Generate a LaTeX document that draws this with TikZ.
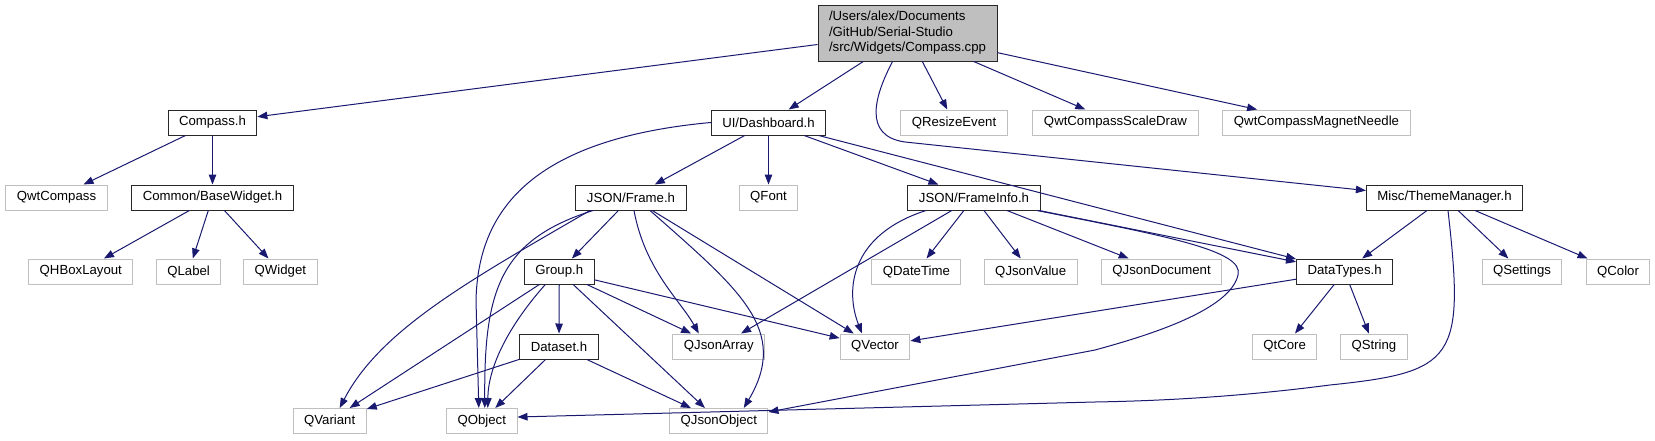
\documentclass[tikz,border=0pt]{standalone}
\usepackage{fontspec}
\setmainfont{Liberation Sans}
\usepackage{tikz}
\usetikzlibrary{arrows.meta}
\definecolor{bleuNuit}{RGB}{25,25,112}
\definecolor{grisBord}{RGB}{191,191,191}
\definecolor{grisFonce}{RGB}{40,40,40}

\tikzset{
  fichier/.style={draw=grisFonce,line width=1pt,fill=white,inner xsep=11pt,
                  inner ysep=0pt,minimum height=25pt},
  externe/.style={fichier,draw=grisBord},
  racine/.style={fichier,fill=grisBord,align=left,minimum height=56pt},
  lien/.style={bleuNuit,line width=1pt,-{Triangle[length=10pt,width=7.5pt]}}
}

\begin{document}
\begin{tikzpicture}[x=1pt,y=-1pt,font=\fontsize{13.2}{15.5}\selectfont]
  \useasboundingbox (0,0) rectangle (1655,440);

  % Fichier racine
  \node[racine] (root) at (907.5,33)
    {/Users/alex/Documents\\/GitHub/Serial-Studio\\/src/Widgets/Compass.cpp};

  % En-têtes du projet
  \foreach \n/\x/\y/\t in {compass/212.5/122.5/Compass.h,
                           dash/768.5/122.5/UI\slash Dashboard.h,
                           base/212.5/197.5/Common\slash BaseWidget.h,
                           frame/631/197.5/JSON\slash Frame.h,
                           frameinfo/974/197.5/JSON\slash FrameInfo.h,
                           theme/1444.5/197.5/Misc\slash ThemeManager.h,
                           group/559.3/271.5/Group.h,
                           datatypes/1344.6/271.5/DataTypes.h,
                           dataset/559/346.5/Dataset.h}
    \node[fichier] (\n) at (\x,\y) {\t};

  % En-têtes externes (Qt, Qwt)
  \foreach \n/\x/\y/\t in {qresize/954/122.5/QResizeEvent,
                           scaledraw/1115.5/122.5/QwtCompassScaleDraw,
                           needle/1316.5/122.5/QwtCompassMagnetNeedle,
                           qwtcompass/56.5/197.5/QwtCompass,
                           qfont/768.5/197.5/QFont,
                           qhbox/80.8/271.5/QHBoxLayout,
                           qlabel/188.6/271.5/QLabel,
                           qwidget/280.4/271.5/QWidget,
                           qdatetime/916.4/271.5/QDateTime,
                           qjsonvalue/1030.7/271.5/QJsonValue,
                           qjsondoc/1161.6/271.5/QJsonDocument,
                           qsettings/1522/271.5/QSettings,
                           qcolor/1618/271.5/QColor,
                           qjsonarray/718.8/346.5/QJsonArray,
                           qvector/875/346.5/QVector,
                           qtcore/1284.6/346.5/QtCore,
                           qstring/1373.9/346.5/QString,
                           qvariant/329.7/421/QVariant,
                           qobject/481.8/421/QObject,
                           qjsonobject/718.8/421/QJsonObject}
    \node[externe] (\n) at (\x,\y) {\t};

  % Liens directs
  \foreach \a/\b in {root/compass,root/dash,root/qresize,root/scaledraw,root/needle,
                     compass/qwtcompass,compass/base,
                     base/qhbox,base/qlabel,base/qwidget,
                     dash/frame,dash/qfont,dash/frameinfo,dash/datatypes,
                     frame/group,frame/qvector,
                     group/qvariant,group/dataset,group/qjsonarray,
                     group/qjsonobject,group/qvector,
                     dataset/qvariant,dataset/qobject,dataset/qjsonobject,
                     frameinfo/qjsonarray,frameinfo/qdatetime,frameinfo/qjsonvalue,
                     frameinfo/qjsondoc,frameinfo/datatypes,
                     datatypes/qvector,datatypes/qtcore,datatypes/qstring,
                     theme/datatypes,theme/qsettings,theme/qcolor}
    \draw[lien] (\a) -- (\b);

  % Liens courbes
  \draw[lien] ([xshift=-15pt]root.south) .. controls (875,95) and (862,136) .. (905,142)
    -- ([yshift=7pt]theme.west);
  \draw[lien] (dash.west) .. controls (520,140) and (478,220) .. (476,300)
    -- ([xshift=-3pt]qobject.north);
  \draw[lien] ([xshift=-38pt]frame.south) .. controls (500,240) and (484,290)
    .. ([xshift=3pt]qobject.north);
  \draw[lien] ([xshift=-41pt]frame.south) .. controls (470,280) and (380,330)
    .. ([xshift=10pt]qvariant.north);
  \draw[lien] ([xshift=3pt]frame.south) .. controls (645,270) and (680,300)
    .. ([xshift=-20pt]qjsonarray.north);
  \draw[lien] ([xshift=19pt]frame.south) .. controls (740,290) and (790,330)
    .. ([xshift=25pt]qjsonobject.north);
  \draw[lien] ([xshift=-14pt]group.south) .. controls (505,330) and (488,370)
    .. ([xshift=6pt]qobject.north);
  \draw[lien] ([xshift=-48pt]frameinfo.south) .. controls (850,235) and (845,290)
    .. ([xshift=-13pt]qvector.north);
  \draw[lien] ([xshift=63pt]frameinfo.south) .. controls (1160,235) and (1245,250) .. (1238,275)
    .. controls (1230,310) and (1150,335) .. (1095,350) -- ([yshift=9pt]qjsonobject.east);
  \draw[lien] ([xshift=3.5pt]theme.south) .. controls (1465,360) and (1455,372) .. (1330,385)
    .. controls (1230,398) and (1150,401) .. (1095,402) -- ([yshift=4pt]qobject.east);
\end{tikzpicture}
\end{document}
